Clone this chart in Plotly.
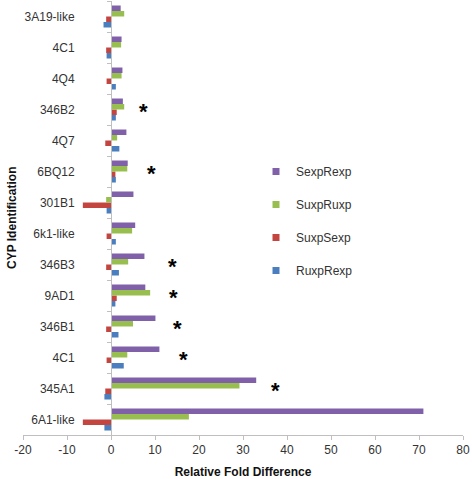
import plotly.graph_objects as go

categories = ["3A19-like", "4C1", "4Q4", "346B2", "4Q7", "6BQ12", "301B1",
              "6k1-like", "346B3", "9AD1", "346B1", "4C1", "345A1", "6A1-like"]
SexpRexp = [2.2, 2.4, 2.6, 2.7, 3.5, 3.8, 5.1, 5.5, 7.6, 7.8, 10.1, 11.0, 33.0, 71.0]
SuxpRuxp = [3.0, 2.3, 2.4, 3.0, 1.4, 3.7, -1.1, 4.8, 3.9, 8.9, 5.0, 3.7, 29.2, 17.7]
SuxpSexp = [-1.1, -1.1, -1.0, 1.3, -1.3, 1.0, -6.4, -1.0, -1.1, 1.3, -1.1, -1.0, -1.3, -6.4]
RuxpRexp = [-1.7, -1.0, 1.1, 1.1, 1.9, 1.1, -1.0, 1.1, 1.8, 1.0, 1.7, 2.9, -1.5, -1.5]
star_x = [7.3, 9.1, 13.9, 14.3, 15.0, 16.4, 37.3]
star_rows = [3, 5, 8, 9, 10, 11, 12]  # row index in categories list (top to bottom)
x_ticks = list(range(-20, 81, 10))
x_ticklabels = [str(v) for v in x_ticks]

n = len(categories)
ypos = [n - 1 - i for i in range(n)]  # top category at highest position

series = [("RuxpRexp", RuxpRexp, "#4A7EBF"),
          ("SuxpSexp", SuxpSexp, "#C4443F"),
          ("SuxpRuxp", SuxpRuxp, "#97BE4E"),
          ("SexpRexp", SexpRexp, "#8060A8")]

fig = go.Figure()
for name, vals, col in series:
    fig.add_trace(go.Bar(x=vals, y=ypos, orientation="h", name=name,
                         marker=dict(color=col, line=dict(width=0)),
                         showlegend=False))
for name, vals, col in reversed(series):
    fig.add_trace(go.Scatter(x=[None], y=[None], mode="markers", name=name,
                             legendgroup=name,
                             marker=dict(symbol="square", size=7, color=col)))

for sx, r in zip(star_x, star_rows):
    fig.add_annotation(x=sx, y=n - 1 - r, text="<b>*</b>", showarrow=False,
                       font=dict(size=22, color="black", family="Liberation Sans"),
                       yshift=-2)

axis_col = "#BFBFBF"
fig.add_annotation(text="<b>CYP Identification</b>", x=(12 - 23) / 440, xref="paper",
                   xanchor="center", yanchor="middle",
                   y=1 - (218 - 1) / 434, yref="paper", showarrow=False, textangle=-90,
                   font=dict(size=12, color="#111111"))
fig.update_layout(
    width=472, height=479,
    margin=dict(l=23, r=9, t=1, b=44, autoexpand=False),
    paper_bgcolor="white", plot_bgcolor="white",
    barmode="group", bargap=0.29, bargroupgap=0,
    font=dict(family="Liberation Sans, Arial", size=12, color="#333333"),
    xaxis=dict(range=[-20, 80], tickvals=x_ticks, ticktext=x_ticklabels, automargin=False,
               showgrid=False, zeroline=False, showline=True, linecolor=axis_col,
               ticks="outside", ticklen=4, tickcolor=axis_col,
               tickfont=dict(size=12, color="#333333"),
               title=dict(text="<b>Relative Fold Difference</b>",
                          font=dict(size=12, color="#111111"), standoff=12)),
    yaxis=dict(range=[-0.5, n - 0.5], tickvals=ypos, ticktext=categories,
               anchor="free", position=0.2, automargin=False,
               showgrid=False, zeroline=False, showline=True, linecolor=axis_col,
               ticks="", ticklabelstandoff=34,
               tickfont=dict(size=12, color="#333333"),
               minor=dict(tickvals=[i - 0.5 for i in range(n + 1)], ticks="outside",
                          ticklen=4, tickcolor=axis_col)),
    legend=dict(x=(256 - 23) / 440, y=1 - (157 - 1) / 434, xanchor="left", yanchor="top",
                traceorder="grouped", tracegroupgap=14,
                font=dict(size=12, color="#333333"), itemwidth=30,
                bgcolor="rgba(0,0,0,0)"),
)

fig.write_html("out.html", config={"displayModeBar": False},
               post_script="document.body.style.margin='0';")
